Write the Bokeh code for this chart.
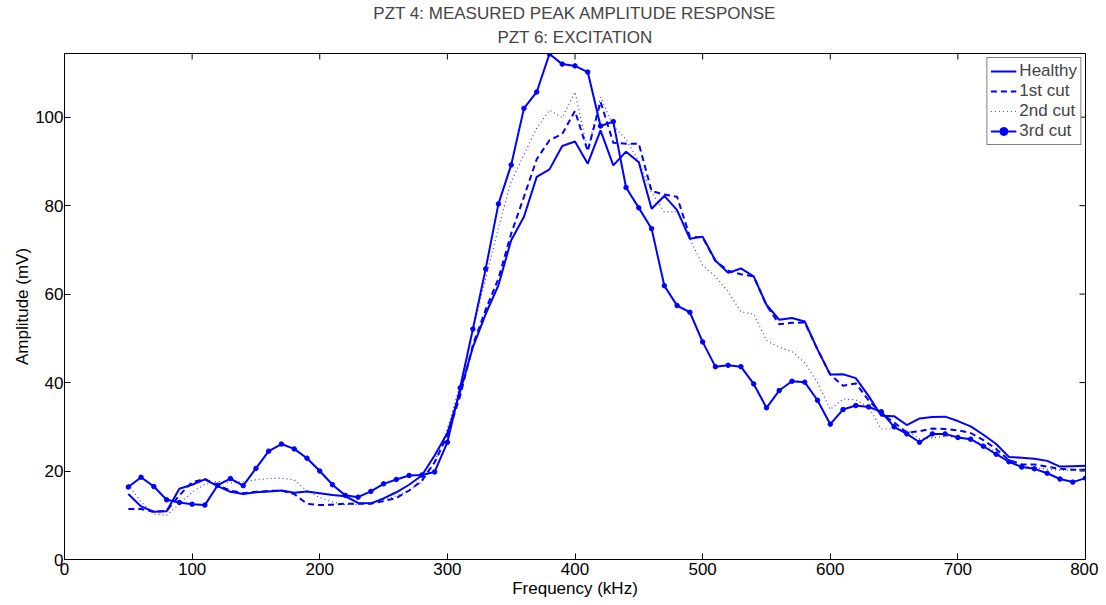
import math
from bokeh.plotting import figure
from bokeh.models import Range1d, Title, FixedTicker
from bokeh.embed import file_html
from bokeh.resources import INLINE

freq = [50, 60, 70, 80, 90, 100, 110, 120, 130, 140, 150, 160, 170, 180, 190,
        200, 210, 220, 230, 240, 250, 260, 270, 280, 290, 300, 310, 320, 330,
        340, 350, 360, 370, 380, 390, 400, 410, 420, 430, 440, 450, 460, 470,
        480, 490, 500, 510, 520, 530, 540, 550, 560, 570, 580, 590, 600, 610,
        620, 630, 640, 650, 660, 670, 680, 690, 700, 710, 720, 730, 740, 750,
        760, 770, 780, 790, 800]

healthy = [14.8, 12.0, 10.8, 10.9, 16.0, 16.9, 18.1, 16.6, 15.3, 14.8, 15.2, 15.4,
           15.6, 15.1, 15.4, 15.0, 14.6, 14.3, 12.8, 12.7, 13.8, 15.2, 16.9, 19.0,
           23.5, 28.6, 38.0, 48.0, 55.5, 62.0, 72.2, 77.5, 86.5, 88.2, 93.5, 94.5,
           89.5, 97.0, 89.1, 92.2, 89.8, 79.3, 82.2, 79.0, 72.5, 73.0, 67.6, 64.8,
           65.8, 64.0, 57.6, 54.2, 54.6, 53.8, 47.5, 41.8, 41.9, 41.0, 37.0, 32.5,
           32.4, 30.4, 31.9, 32.2, 32.3, 31.3, 30.1, 28.2, 26.1, 23.2, 23.0, 22.8,
           22.3, 21.0, 21.1, 21.2]

cut1 = [11.4, 11.4, 10.8, 11.0, 14.5, 17.5, 18.2, 16.8, 15.6, 15.0, 15.3, 15.5,
        15.6, 14.8, 12.6, 12.3, 12.4, 12.6, 12.6, 12.6, 13.2, 13.9, 15.6, 17.8,
        22.0, 28.0, 37.0, 48.5, 56.5, 63.5, 73.7, 82.0, 90.5, 94.8, 96.2, 101.4,
        92.3, 103.5, 94.2, 94.0, 94.0, 83.3, 82.5, 82.0, 73.0, 72.8, 67.5, 65.3,
        64.5, 64.0, 57.5, 53.2, 53.5, 53.6, 47.5, 41.8, 39.3, 39.8, 36.0, 33.0,
        31.0, 28.7, 29.0, 29.6, 29.5, 29.2, 28.6, 27.0, 25.0, 22.5, 21.5, 21.5,
        21.0, 20.5, 20.3, 20.3]

cut2 = [17.0, 13.0, 10.3, 10.0, 12.5, 15.2, 17.0, 17.7, 17.3, 17.6, 18.0, 18.3,
        18.4, 18.0, 15.5, 14.0, 13.0, 12.4, 12.5, 12.8, 13.4, 14.4, 15.6, 17.5,
        22.0, 29.5, 39.5, 52.0, 63.5, 75.0, 85.5, 91.5, 97.5, 101.6, 99.9, 105.7,
        92.5, 104.5, 98.0, 95.0, 90.0, 83.0, 78.6, 78.6, 72.5, 66.5, 64.0, 60.5,
        56.0, 55.5, 49.5, 48.0, 47.0, 44.5, 40.0, 33.9, 36.3, 36.1, 34.5, 29.5,
        29.5, 29.2, 27.3, 27.5, 27.9, 27.6, 27.2, 26.0, 24.3, 21.9, 21.2, 20.8,
        20.4, 20.2, 20.2, 20.4]

cut3 = [16.4, 18.6, 16.5, 13.5, 12.9, 12.5, 12.3, 16.8, 18.3, 16.7, 20.6, 24.5,
        26.1, 25.0, 22.9, 20.0, 16.9, 14.5, 14.1, 15.4, 17.1, 18.1, 19.0, 19.1,
        19.8, 26.5, 38.8, 52.1, 65.7, 80.4, 89.2, 102.0, 105.7, 114.3, 112.0, 111.6,
        110.2, 98.0, 99.0, 84.1, 79.5, 74.8, 61.9, 57.4, 55.9, 49.2, 43.6, 43.9,
        43.6, 39.7, 34.3, 38.2, 40.3, 40.1, 36.0, 30.6, 33.9, 34.8, 34.5, 33.4,
        30.0, 28.4, 26.5, 28.4, 28.4, 27.6, 27.2, 25.6, 23.8, 22.1, 20.9, 20.5,
        19.5, 18.2, 17.5, 18.4]

x_ticks = [0, 100, 200, 300, 400, 500, 600, 700, 800]
y_ticks = [0, 20, 40, 60, 80, 100]
X_MIN, X_MAX = 0, 800
Y_MIN, Y_MAX = 0, 114.4

title_lines = ["PZT 4: MEASURED PEAK AMPLITUDE RESPONSE", "PZT 6: EXCITATION"]

FONT = "Liberation Sans"
FS = "17px"
BLUE = "#0000ff"

p = figure(width=1098, height=600,
           x_range=Range1d(X_MIN, X_MAX), y_range=Range1d(Y_MIN, Y_MAX),
           output_backend="svg", toolbar_location=None,
           min_border_left=64, min_border_right=13, min_border_top=53,
           min_border_bottom=10, background_fill_color="white",
           border_fill_color="white")

p.xgrid.visible = False
p.ygrid.visible = False
p.outline_line_color = "black"
p.outline_line_width = 1

def style_axis(ax, ticks, label):
    ax.ticker = FixedTicker(ticks=ticks)
    ax.major_tick_in = 6
    ax.major_tick_out = 0
    ax.minor_tick_line_color = None
    ax.axis_line_color = "black"
    ax.major_tick_line_color = "black"
    ax.major_label_text_font = FONT
    ax.major_label_text_color = "black"
    ax.major_label_text_font_size = FS
    ax.axis_label = label
    ax.axis_label_text_font = FONT
    ax.axis_label_text_font_size = FS
    ax.axis_label_text_font_style = "normal"
    ax.axis_label_text_color = "black"
    ax.axis_label_standoff = 0

style_axis(p.xaxis[0], x_ticks, "Frequency (kHz)")
p.xaxis[0].major_label_standoff = 3
p.xaxis[0].axis_label_standoff = 1
style_axis(p.yaxis[0], y_ticks, "Amplitude (mV)")
p.yaxis[0].major_label_standoff = 1

# inward ticks on the top and right edges of the box
p.ray(x=x_ticks, y=[Y_MAX] * len(x_ticks), length=6, angle=-math.pi / 2,
      length_units="screen", line_color="black", line_width=1)
p.ray(x=[X_MAX] * len(y_ticks), y=y_ticks, length=6, angle=math.pi,
      length_units="screen", line_color="black", line_width=1)

t2 = Title(text=title_lines[1], align="center", text_font=FONT,
           text_font_size="17px", text_font_style="normal", standoff=10,
           vertical_align="top")
p.add_layout(t2, "above")
t1 = Title(text=title_lines[0], align="center", text_font=FONT,
           text_font_size="17px", text_font_style="normal", standoff=0)
p.add_layout(t1, "above")

p.line(freq, healthy, line_color=BLUE, line_width=2, legend_label="Healthy")
p.line(freq, cut1, line_color=BLUE, line_width=2, line_dash="6 4", legend_label="1st cut")
p.line(freq, cut2, line_color=BLUE, line_width=1.2, line_dash="1 3", line_alpha=0.8,
       legend_label="2nd cut")
p.line(freq, cut3, line_color=BLUE, line_width=2, legend_label="3rd cut")
p.scatter(freq, cut3, size=4.5, fill_color=BLUE, line_color=BLUE, legend_label="3rd cut")

lg = p.legend[0]
lg.location = "top_right"
lg.margin = 4
lg.padding = 3
lg.spacing = 0
lg.label_text_font = FONT
lg.label_text_font_size = FS
lg.label_height = 20
lg.glyph_height = 20
lg.glyph_width = 26
lg.label_standoff = 3
lg.border_line_color = "black"
lg.border_line_width = 1
lg.background_fill_color = "white"
lg.background_fill_alpha = 1

open("out.html", "w").write(file_html(p, INLINE))
